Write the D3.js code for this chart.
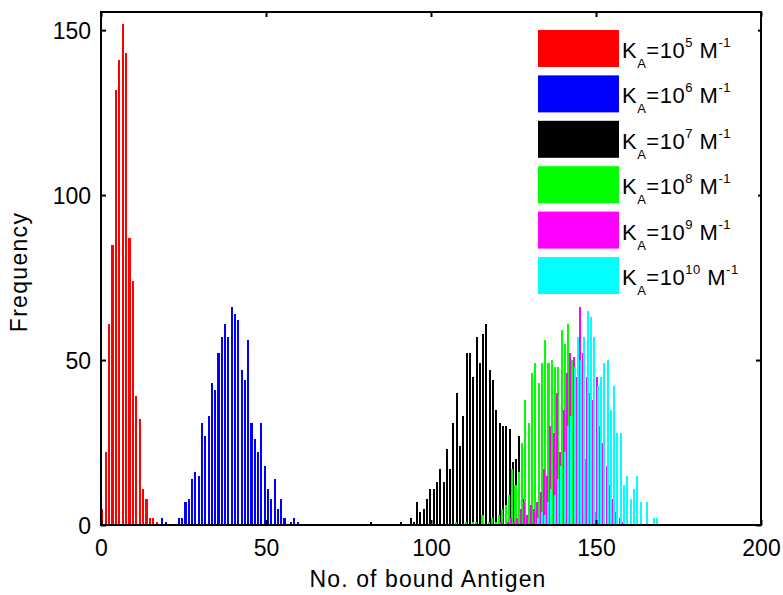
<!DOCTYPE html>
<html>
<head>
<meta charset="utf-8">
<script src="https://cdn.jsdelivr.net/npm/d3@7"></script>
<style>
  html, body { margin: 0; padding: 0; background: #ffffff; }
  svg { display: block; }
</style>
</head>
<body>
<svg id="chart" width="783" height="595"></svg>
<script>
// Frequency of the number of bound antigens for six association constants K_A.
// Each series is a histogram with its own first bin centre and bin width.
const legendExponents = ["5", "6", "7", "8", "9", "10"];
const seriesColors = ["#ff0000", "#0000ff", "#000000", "#00ff00", "#ff00ff", "#00ffff"];
const binStarts = [0.4, 18.6, 81.8, 107.6, 121.2, 132.5];
const binSteps = [1.03, 1, 1, 1, 1, 1];

const countsKA5 = [5, 22, 61, 85, 132, 141, 152, 143, 87, 74, 39, 32, 11, 8, 2, 2, 1];
const countsKA6 = [2, 1, 0, 0, 0, 2, 2, 7, 8, 14, 16, 15, 31, 27, 33, 43, 41, 52, 57, 61, 57,
                   66, 64, 62, 47, 44, 56, 31, 26, 22, 31, 18, 11, 8, 14, 5, 8, 2, 0, 1, 2, 1];
const countsKA7 = [1, 0, 0, 0, 0, 0, 0, 0, 0, 1, 0, 0, 2, 1, 7, 4, 5, 8, 11, 11, 13, 17, 13,
                   23, 17, 31, 40, 24, 33, 52, 52, 45, 57, 49, 58, 61, 47, 44, 35, 31, 30, 30,
                   29, 19, 20, 27, 8, 3];
const countsKA8 = [1, 0, 0, 1, 0, 1, 1, 0, 3, 0, 1, 2, 1, 3, 5, 6, 9, 17, 12, 16, 25, 38, 31,
                   46, 49, 43, 49, 56, 49, 50, 48, 48, 59, 55, 61, 50, 42, 35, 28, 20, 12, 7, 4, 2, 1];
const countsKA9 = [1, 0, 1, 2, 1, 2, 5, 7, 3, 6, 5, 7, 10, 17, 15, 30, 28, 40, 22, 35, 46, 52,
                   51, 45, 66, 52, 45, 40, 38, 45, 30, 25, 18, 12, 8, 4, 2, 1];
const countsKA10 = [2, 4, 3, 7, 11, 9, 14, 18, 22, 30, 33, 48, 57, 50, 57, 65, 63, 57, 42, 45,
                    49, 50, 35, 42, 28, 28, 12, 15, 8, 11, 15, 7, 0, 7, 0, 2, 2];

const xTicks = [0, 50, 100, 150, 200];
const yTicks = [0, 50, 100, 150];
const xLabel = "No. of bound Antigen";
const yLabel = "Frequency";

const allCounts = [countsKA5, countsKA6, countsKA7, countsKA8, countsKA9, countsKA10];

const svg = d3.select("#chart");
const plot = { left: 101, right: 761, top: 12, bottom: 525 };

const x = d3.scaleLinear().domain([0, 200]).range([plot.left, plot.right]);
const y = d3.scaleLinear().domain([0, 155.5]).range([plot.bottom, plot.top]);

const fontFamily = "'Liberation Sans', Arial, Helvetica, sans-serif";

// bars, drawn in legend order so later series sit on top
const barFrac = 0.62;
allCounts.forEach((counts, s) => {
  const step = binSteps[s];
  const bins = counts.map((c, i) => ({ centre: binStarts[s] + i * step, count: c }))
                     .filter(d => d.count > 0);
  const w = barFrac * step;
  svg.append("g")
    .attr("shape-rendering", "crispEdges")
    .selectAll("rect")
    .data(bins)
    .join("rect")
    .attr("x", d => x(d.centre - w / 2))
    .attr("width", d => x(w) - x(0))
    .attr("y", d => y(d.count))
    .attr("height", d => y(0) - y(d.count))
    .attr("fill", seriesColors[s]);
});

// axes with inward ticks on all four sides
const bottomAxis = svg.append("g")
  .attr("transform", `translate(0,${plot.bottom})`)
  .call(d3.axisBottom(x).tickValues(xTicks).tickSize(-5).tickPadding(15).tickFormat(d3.format("d")));
const leftAxis = svg.append("g")
  .attr("transform", `translate(${plot.left},0)`)
  .call(d3.axisLeft(y).tickValues(yTicks).tickSize(-5).tickPadding(10).tickFormat(d3.format("d")));
const topAxis = svg.append("g")
  .attr("transform", `translate(0,${plot.top})`)
  .call(d3.axisTop(x).tickValues(xTicks).tickSize(-5).tickFormat(""));
const rightAxis = svg.append("g")
  .attr("transform", `translate(${plot.right},0)`)
  .call(d3.axisRight(y).tickValues(yTicks).tickSize(-5).tickFormat(""));

[bottomAxis, leftAxis, topAxis, rightAxis].forEach(g => {
  g.select(".domain").remove();
  g.selectAll(".tick line").attr("stroke", "#000").attr("stroke-width", 2);
  g.selectAll("text")
    .attr("fill", "#000")
    .style("font-family", fontFamily)
    .style("font-size", "23px");
});
leftAxis.selectAll("text").attr("dy", "0.36em");

svg.append("rect")
  .attr("x", plot.left).attr("y", plot.top)
  .attr("width", plot.right - plot.left).attr("height", plot.bottom - plot.top)
  .attr("fill", "none").attr("stroke", "#000").attr("stroke-width", 2);

// axis titles
svg.append("text")
  .attr("x", 428).attr("y", 587)
  .attr("text-anchor", "middle")
  .style("font-family", fontFamily).style("font-size", "23px").style("letter-spacing", "1.1px")
  .text(xLabel);
svg.append("text")
  .attr("transform", `translate(27,272) rotate(-90)`)
  .attr("text-anchor", "middle")
  .style("font-family", fontFamily).style("font-size", "23px").style("letter-spacing", "1.3px")
  .text(yLabel);

// legend
const legend = svg.append("g");
legend.append("rect")
  .attr("x", 530).attr("y", 22).attr("width", 228).attr("height", 280)
  .attr("fill", "#ffffff");
const legendPitch = 45.4;
legendExponents.forEach((ex, i) => {
  const top = 30 + i * legendPitch;
  legend.append("rect")
    .attr("x", 538).attr("y", top).attr("width", 81).attr("height", 37)
    .attr("fill", seriesColors[i]);
  const t = legend.append("text")
    .attr("x", 622).attr("y", top + 28)
    .style("font-family", fontFamily).style("font-size", "22px")
    .style("letter-spacing", "0.5px")
    .attr("fill", "#000");
  t.append("tspan").text("K");
  t.append("tspan").attr("dy", 10).style("font-size", "13px").text("A");
  t.append("tspan").attr("dy", -10).text("=10");
  t.append("tspan").attr("dy", -11).style("font-size", "13px").text(ex);
  t.append("tspan").attr("dy", 11).text(" M");
  t.append("tspan").attr("dy", -11).style("font-size", "13px").text("-1");
});
</script>
</body>
</html>
